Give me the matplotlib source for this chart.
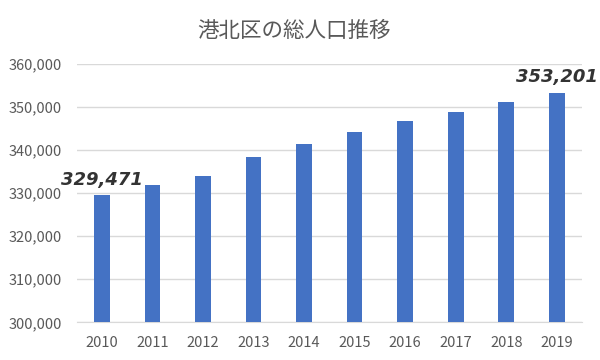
import matplotlib
matplotlib.use("Agg")
import matplotlib.pyplot as plt
from matplotlib.ticker import FuncFormatter, MultipleLocator

plt.rcParams['font.family'] = ['Noto Sans CJK JP', 'DejaVu Sans']

years = ["2010", "2011", "2012", "2013", "2014", "2015", "2016", "2017", "2018", "2019"]
population = [329471, 331930, 334020, 338440, 341400, 344260, 346740, 348750, 351160, 353201]
labelled = {0: "329,471", 9: "353,201"}
title = "港北区の総人口推移"

fig = plt.figure(figsize=(6, 3.6), dpi=100)
ax = fig.add_axes([0.128, 0.1047, 0.842, 0.7173])

x = list(range(len(years)))
ax.bar(x, population, width=0.31, color="#4472C4", zorder=3)
ax.set_xlim(-0.5, len(years) - 0.5)
ax.set_ylim(300000, 360000)
ax.yaxis.set_major_locator(MultipleLocator(10000))
ax.yaxis.set_major_formatter(FuncFormatter(lambda v, p: f"{int(v):,}"))
ax.set_xticks(x)
ax.set_xticklabels(years)
ax.grid(axis="y", color="#d9d9d9", linewidth=1, zorder=0)
for s in ["top", "right", "left"]:
    ax.spines[s].set_visible(False)
ax.spines["bottom"].set_color("#d9d9d9")
ax.tick_params(axis="both", length=0, colors="#595959", labelsize=10.5)
ax.tick_params(axis="y", pad=11)
ax.tick_params(axis="x", pad=10)

for i, txt in labelled.items():
    ax.annotate(txt, (x[i], population[i]), xytext=(0, 5), textcoords="offset points",
                ha="center", va="bottom", fontsize=13, fontweight="bold",
                fontstyle="italic", color="#333333", family=["DejaVu Sans"])

fig.text(0.49, 0.915, title, ha="center", va="center", fontsize=15.5, color="#595959")

fig.savefig("out.png", dpi=100)
